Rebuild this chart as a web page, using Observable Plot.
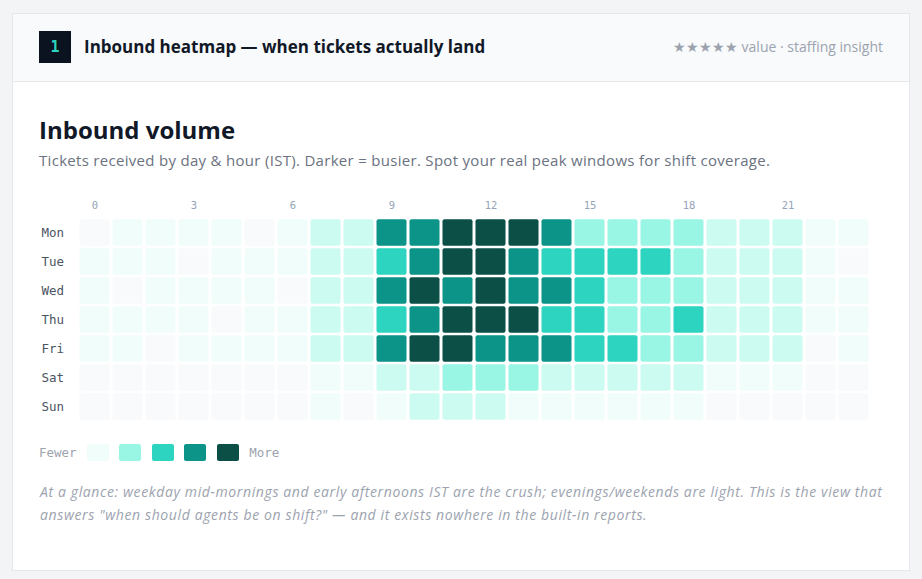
<!DOCTYPE html>
<html>
<head>
<meta charset="utf-8">
<script src="https://cdn.jsdelivr.net/npm/d3@7"></script>
<script src="https://cdn.jsdelivr.net/npm/@observablehq/plot@0.6"></script>
<style>
  html, body { margin: 0; padding: 0; }
  body { width: 922px; height: 579px; background: #f3f4f6; position: relative; overflow: hidden;
         font-family: "Open Sans", "Noto Sans", sans-serif; }
  .card { position: absolute; left: 12px; top: 13px; width: 898px; height: 558px; box-sizing: border-box;
          background: #fff; border: 1px solid #e5e7eb; }
  .head { position: absolute; left: 0; top: 0; right: 0; height: 68px; background: #f8fafc;
          border-bottom: 1px solid #e5e7eb; box-sizing: border-box; }
  .abs { position: absolute; white-space: nowrap; }
  .badge { left: 39px; top: 31px; width: 32px; height: 32px; background: #0b1220; color: #2dd4bf;
           font-family: "DejaVu Sans Mono", monospace; font-weight: 700; font-size: 15px; line-height: 32px; text-align: center; }
  .htitle { left: 84px; top: 36px; font-size: 17px; line-height: 22px; font-weight: 700; color: #111827; }
  .hright { right: 39px; top: 37px; font-size: 14px; line-height: 20px; color: #9ca3af; }
  .title { left: 39px; top: 114px; font-size: 24px; line-height: 32px; font-weight: 700; color: #111827; }
  .sub { left: 39px; top: 149px; font-size: 15px; line-height: 22px; color: #6b7280; letter-spacing: 0.3px; }
  #chart { position: absolute; left: 39px; top: 190px; }
  .legend { left: 39px; top: 444px; height: 17px; display: flex; align-items: center;
            font-family: "DejaVu Sans Mono", monospace; font-size: 12.5px; color: #9ca3af; }
  .sw { width: 22px; height: 17px; border-radius: 2px; margin-right: 10.5px; }
  .cap { left: 40px; top: 480px; width: 852px; font-size: 14px; line-height: 23px; font-style: italic;
         color: #9ca3af; white-space: normal; letter-spacing: 0.62px; }
</style>
</head>
<body>
<div class="card"><div class="head"></div></div>
<div class="abs badge">1</div>
<div class="abs htitle">Inbound heatmap — when tickets actually land</div>
<div class="abs hright">★★★★★ value · staffing insight</div>
<div class="abs title">Inbound volume</div>
<div class="abs sub">Tickets received by day &amp; hour (IST). Darker = busier. Spot your real peak windows for shift coverage.</div>
<div id="chart"></div>
<div class="abs legend" id="legend"></div>
<div class="abs cap">At a glance: weekday mid-mornings and early afternoons IST are the crush; evenings/weekends are light. This is the view that answers "when should agents be on shift?" — and it exists nowhere in the built-in reports.</div>
<script>
// Categories
const days = ["Mon", "Tue", "Wed", "Thu", "Fri", "Sat", "Sun"];
const hours = [0,1,2,3,4,5,6,7,8,9,10,11,12,13,14,15,16,17,18,19,20,21,22,23];
const hourTicks = [0, 3, 6, 9, 12, 15, 18, 21];

// Busyness level per hour (0 = none … 6 = busiest)
const mon = [0,1,1,1,1,0,1,2,2,5,5,6,6,6,5,3,3,3,3,2,2,2,1,1];
const tue = [1,1,1,0,1,1,1,2,2,4,5,6,6,5,4,4,4,4,3,2,2,2,1,0];
const wed = [1,0,1,1,1,1,0,2,2,5,6,5,6,5,5,4,3,3,3,2,2,2,1,1];
const thu = [1,1,1,1,0,1,1,2,2,4,5,6,6,6,4,4,3,3,4,2,2,2,1,1];
const fri = [1,1,0,1,1,1,1,2,2,5,6,6,5,5,5,4,4,3,3,2,2,2,0,1];
const sat = [0,0,0,0,0,0,0,1,1,2,2,3,3,3,2,2,2,2,2,1,1,1,0,0];
const sun = [0,0,0,0,0,0,0,1,0,1,2,2,2,1,1,1,1,1,1,0,0,0,0,0];

const levels = [0, 1, 2, 3, 4, 5, 6];
const palette = ["#f8fafc", "#f0fdfa", "#ccfbf1", "#99f6e4", "#2dd4bf", "#0d9488", "#0b4f47"];
const legendLevels = [1, 3, 4, 5, 6];

const rows = [mon, tue, wed, thu, fri, sat, sun];
const data = [];
rows.forEach((r, i) => r.forEach((v, h) => data.push({day: days[i], hour: hours[h], level: v})));

const chart = Plot.plot({
  width: 832,
  height: 234,
  marginLeft: 39,
  marginRight: 1,
  marginTop: 27.75,
  marginBottom: 2.1,
  style: {background: "transparent", fontFamily: "'DejaVu Sans Mono', monospace"},
  x: {type: "band", domain: hours, padding: 0, axis: null, label: null},
  y: {type: "band", domain: days, padding: 0, axis: null, label: null},
  color: {type: "ordinal", domain: levels, range: palette},
  marks: [
    Plot.cell(data, {x: "hour", y: "day", fill: "level", insetLeft: 1.5, insetRight: 1.5, insetTop: 1.3, insetBottom: 1.3, rx: 2}),
    Plot.axisX(hourTicks, {anchor: "top", tickSize: 0, tickPadding: 9, fontSize: 10.5, color: "#94a3b8",
      label: null, fontFamily: "'DejaVu Sans Mono', monospace"}),
    Plot.text(days, {y: d => d, text: d => d, frameAnchor: "left", textAnchor: "start", dx: -37,
      fontSize: 12.5, fill: "#4b5563", fontFamily: "'DejaVu Sans Mono', monospace"})
  ]
});
document.getElementById("chart").appendChild(chart);

// Legend
const lg = document.getElementById("legend");
const fewer = document.createElement("span");
fewer.textContent = "Fewer";
fewer.style.marginRight = "10px";
lg.appendChild(fewer);
legendLevels.forEach(l => {
  const s = document.createElement("span");
  s.className = "sw";
  s.style.background = palette[levels.indexOf(l)];
  lg.appendChild(s);
});
const more = document.createElement("span");
more.textContent = "More";
lg.appendChild(more);
</script>
</body>
</html>
